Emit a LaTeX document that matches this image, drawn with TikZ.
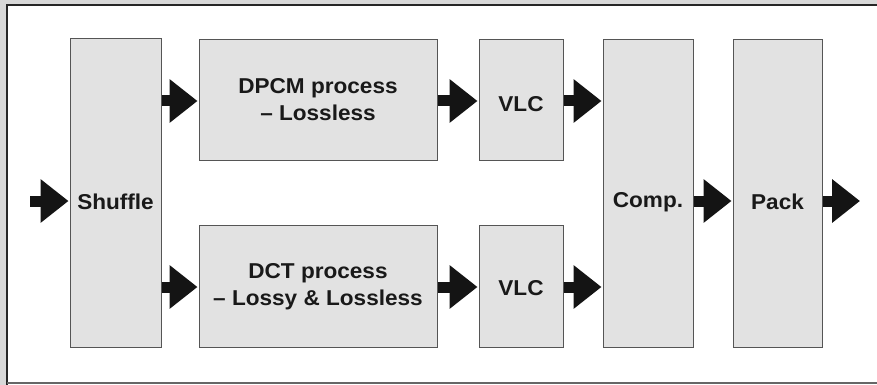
\documentclass[tikz,border=0pt]{standalone}
\usepackage{fontspec}
\setmainfont{Liberation Sans}[FakeStretch=1.05]
\usetikzlibrary{arrows.meta}
\definecolor{boxfill}{HTML}{E2E2E2}
\definecolor{boxline}{HTML}{555555}
\definecolor{edge}{HTML}{D8D8D8}
\tikzset{
  box/.style={draw=boxline, fill=boxfill, line width=1pt, inner sep=0pt},
  lbl/.style={font=\fontsize{21.5}{27}\selectfont\bfseries, align=center, text=black!90, inner sep=0pt},
  fat/.style={line width=11pt, draw=black!92, -{Triangle[length=28pt,width=42pt]}, shorten >=1pt}
}
\begin{document}
\begin{tikzpicture}[x=1pt,y=-1pt]
\useasboundingbox (0,0) rectangle (877,385);
\fill[white] (0,0) rectangle (877,385);
\fill[edge] (0,0) rectangle (6,385);
\fill[edge] (0,0) rectangle (877,4);
\draw[line width=2pt, black!85] (7,385) -- (7,5) -- (877,5);
\draw[line width=1.5pt, black!60] (7,383) -- (877,383);
% boxes
\node[box, minimum width=91pt, minimum height=308pt] (shuffle) at (115.5,193) {};
\node[box, minimum width=238pt, minimum height=120pt] (dpcm) at (318,100) {};
\node[box, minimum width=238pt, minimum height=122pt] (dct) at (318,286) {};
\node[box, minimum width=84pt, minimum height=120pt] (vlc1) at (521,100) {};
\node[box, minimum width=84pt, minimum height=122pt] (vlc2) at (521,286) {};
\node[box, minimum width=90pt, minimum height=307pt] (comp) at (648,193.5) {};
\node[box, minimum width=89pt, minimum height=307pt] (pack) at (777.5,193.5) {};
% labels
\node[lbl] (tshuffle) at (115.5,202) {Shuffle};
\node[lbl] (tdpcm) at (318,100) {DPCM process\\– Lossless};
\node[lbl] (tdct) at (318,287) {DCT process\\– Lossy \& Lossless};
\node[lbl] (tvlc1) at (521,104) {VLC};
\node[lbl] (tvlc2) at (521,288) {VLC};
\node[lbl] (tcomp) at (648,202) {Comp.};
\node[lbl] (tpack) at (777.5,202) {Pack};
% arrows
\coordinate (in) at (30,201);
\coordinate (out) at (861,201);
\coordinate (top) at (0,101);
\coordinate (bot) at (0,287);
\coordinate (mid) at (0,201);
\draw[fat] (in) -- (in -| shuffle.west);
\draw[fat] (shuffle.east |- top) -- (dpcm.west |- top);
\draw[fat] (shuffle.east |- bot) -- (dct.west |- bot);
\draw[fat] (dpcm.east |- top) -- (vlc1.west |- top);
\draw[fat] (dct.east |- bot) -- (vlc2.west |- bot);
\draw[fat] (vlc1.east |- top) -- (comp.west |- top);
\draw[fat] (vlc2.east |- bot) -- (comp.west |- bot);
\draw[fat] (comp.east |- mid) -- (pack.west |- mid);
\draw[fat] (pack.east |- mid) -- (out);
\end{tikzpicture}
\end{document}
